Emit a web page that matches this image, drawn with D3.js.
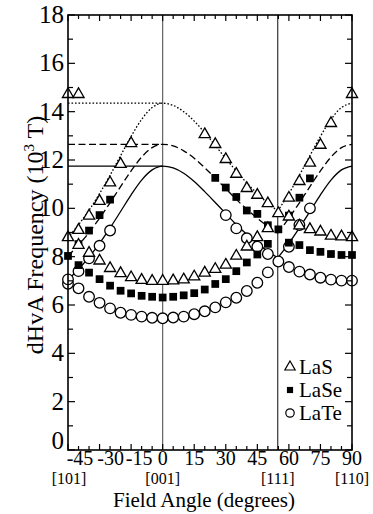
<!DOCTYPE html>
<html>
<head>
<meta charset="utf-8">
<script src="https://cdn.jsdelivr.net/npm/d3@7"></script>
<style>
  html, body { margin: 0; padding: 0; background: #fff; }
  svg text { font-family: "Liberation Serif", "DejaVu Serif", serif; }
</style>
</head>
<body>
<svg id="chart" width="373" height="514"></svg>
<script>
// measured points [angle, frequency (10^3 T)]
const LaS = [
  [-45, 8.80], [-40, 8.48], [-35, 8.15], [-30, 7.83], [-25, 7.52], [-20, 7.31], [-15, 7.14], [-10, 7.03], [-5, 6.99],
  [0, 6.99], [5, 7.01], [10, 7.05], [15, 7.17], [20, 7.33], [25, 7.48], [30, 7.66], [35, 8.03], [40, 8.41], [45, 8.80],
  [50, 9.17], [55, 9.79], [60, 9.65], [65, 9.28], [70, 9.13], [75, 9.03], [80, 8.86], [85, 8.83], [90, 8.80],
  [-40, 9.10], [-35, 9.69], [-30, 10.30], [-25, 11.06], [-20, 11.83], [-15, 12.69],
  [20, 13.06], [25, 12.65], [30, 12.03], [35, 11.42], [40, 10.83], [45, 10.55], [50, 10.20],
  [60, 10.43], [65, 11.12], [70, 11.88], [75, 12.62], [80, 13.52], [90, 14.72],
  [-45, 14.72], [-40, 14.72]
];
const LaSe = [
  [-45, 8.03], [-40, 7.65], [-35, 7.34], [-30, 7.07], [-25, 6.80], [-20, 6.59], [-15, 6.48], [-10, 6.38], [-5, 6.34],
  [0, 6.31], [5, 6.34], [10, 6.40], [15, 6.49], [20, 6.64], [25, 6.87], [30, 7.07], [35, 7.40], [40, 7.76], [45, 8.09],
  [50, 8.53], [55, 9.13], [60, 8.58], [65, 8.48], [70, 8.27], [75, 8.20], [80, 8.11], [85, 8.07], [90, 8.07],
  [-40, 8.52], [-35, 9.08], [-30, 9.72], [-25, 10.36],
  [25, 11.26], [30, 10.86], [35, 10.47], [40, 9.91], [45, 9.77], [50, 9.30],
  [60, 9.70], [65, 10.44], [70, 11.24]
];
const LaTe = [
  [-45, 6.88], [-40, 6.69], [-35, 6.34], [-30, 6.09], [-25, 5.86], [-20, 5.68], [-15, 5.59], [-10, 5.52], [-5, 5.47],
  [0, 5.45], [5, 5.48], [10, 5.52], [15, 5.62], [20, 5.74], [25, 5.90], [30, 6.11], [35, 6.30], [40, 6.58], [45, 6.92],
  [50, 7.35], [55, 7.80], [60, 7.57], [65, 7.38], [70, 7.26], [75, 7.13], [80, 7.05], [85, 7.01], [90, 7.01],
  [-45, 7.06], [-40, 7.40], [-35, 7.93], [-30, 8.45], [-25, 9.08],
  [30, 9.72], [35, 9.17], [40, 8.76], [45, 8.41], [50, 8.11],
  [60, 8.41], [65, 9.31], [70, 10.00]
];

// calculated curves; the cusp sits at [111]
const curveAngles = [-45, -40, -35, -30, -25, -20, -15, -10, -5, 0, 5, 10, 15, 20, 25, 30, 35, 40, 45, 50, 54.7,
  60, 65, 70, 75, 80, 85, 90];
const curveLaS = [8.80, 9.32, 9.92, 10.61, 11.37, 12.18, 12.98, 13.68, 14.17, 14.35, 14.26, 14.00, 13.61, 13.13,
  12.60, 12.06, 11.54, 11.05, 10.61, 10.21, 9.89, 10.61, 11.37, 12.18, 12.98, 13.68, 14.17, 14.35];
const curveLaSe = [8.03, 8.48, 9.00, 9.59, 10.23, 10.90, 11.55, 12.12, 12.51, 12.65, 12.58, 12.38, 12.07, 11.68,
  11.25, 10.81, 10.37, 9.96, 9.59, 9.25, 8.97, 9.59, 10.23, 10.90, 11.55, 12.12, 12.51, 12.65];
const curveLaTe = [7.05, 7.48, 7.98, 8.55, 9.19, 9.87, 10.56, 11.17, 11.59, 11.75, 11.67, 11.45, 11.11, 10.69,
  10.24, 9.78, 9.33, 8.92, 8.55, 8.22, 7.95, 8.55, 9.19, 9.87, 10.56, 11.17, 11.59, 11.75];
const cuspAngle = 54.7;

const xTicks = [-45, -30, -15, 0, 15, 30, 45, 60, 75, 90];
const yTicks = [0, 2, 4, 6, 8, 10, 12, 14, 16, 18];
const dirLabels = [[-45, "[101]"], [0, "[001]"], [54.7, "[111]"], [90, "[110]"]];
const seriesNames = ["LaS", "LaSe", "LaTe"];

const svg = d3.select("#chart");
const m = {left: 68, right: 352, top: 15, bottom: 450};

const x = d3.scaleLinear().domain([-45, 90]).range([m.left, m.right]);
const y = d3.scaleLinear().domain([0, 18]).range([m.bottom, m.top]);

// reference lines at [001] and [111]
[0, cuspAngle].forEach((a, i) => {
  svg.append("line")
    .attr("x1", x(a)).attr("x2", x(a))
    .attr("y1", m.top).attr("y2", m.bottom)
    .attr("stroke", i === 0 ? "#555" : "#222").attr("stroke-width", 1.1);
});

// curves
const styles = [
  {vals: curveLaS, dash: "1.6,1.9"},
  {vals: curveLaSe, dash: "7,3.5"},
  {vals: curveLaTe, dash: null}
];
const line = d3.line().x(d => x(d[0])).y(d => y(d[1])).curve(d3.curveMonotoneX);
const cut = curveAngles.indexOf(cuspAngle);

styles.forEach(s => {
  const pts = curveAngles.map((a, i) => [a, s.vals[i]]);
  const segs = [pts.slice(0, cut + 1), pts.slice(cut)];
  const peak = s.vals[curveAngles.indexOf(0)];
  segs.push([[-45, peak], [0, peak]]);
  segs.forEach(seg => {
    svg.append("path")
      .attr("d", line(seg))
      .attr("fill", "none")
      .attr("stroke", "#000")
      .attr("stroke-width", 1.3)
      .attr("stroke-dasharray", s.dash);
  });
});

// markers
const tri = d3.symbol().type(d3.symbolTriangle).size(54);
const sq = d3.symbol().type(d3.symbolSquare).size(60);

svg.append("g").selectAll("circle").data(LaTe).join("circle")
  .attr("cx", d => x(d[0])).attr("cy", d => y(d[1])).attr("r", 5.3)
  .attr("fill", "#fff").attr("stroke", "#000").attr("stroke-width", 1.3);

svg.append("g").selectAll("path").data(LaSe).join("path")
  .attr("d", sq)
  .attr("transform", d => `translate(${x(d[0])},${y(d[1])})`)
  .attr("fill", "#000");

svg.append("g").selectAll("path").data(LaS).join("path")
  .attr("d", tri)
  .attr("transform", d => `translate(${x(d[0])},${y(d[1])})`)
  .attr("fill", "#fff").attr("stroke", "#000").attr("stroke-width", 1.3);

// frame and ticks
svg.append("rect")
  .attr("x", m.left).attr("y", m.top)
  .attr("width", m.right - m.left).attr("height", m.bottom - m.top)
  .attr("fill", "none").attr("stroke", "#000").attr("stroke-width", 1.6);

const tk = svg.append("g").attr("stroke", "#000").attr("stroke-width", 1.2);
d3.range(-45, 91, 5).forEach(a => {
  const len = a % 15 === 0 ? 6 : 4;
  tk.append("line").attr("x1", x(a)).attr("x2", x(a)).attr("y1", m.bottom).attr("y2", m.bottom - len);
  tk.append("line").attr("x1", x(a)).attr("x2", x(a)).attr("y1", m.top).attr("y2", m.top + len);
});
d3.range(0, 19, 1).forEach(v => {
  const len = v % 2 === 0 ? 7 : 5;
  tk.append("line").attr("x1", m.left).attr("x2", m.left + len).attr("y1", y(v)).attr("y2", y(v));
  tk.append("line").attr("x1", m.right).attr("x2", m.right - len).attr("y1", y(v)).attr("y2", y(v));
});

// tick labels
const negShift = {"-45": 12, "-30": 11, "-15": 8};

svg.append("g").selectAll("text").data(yTicks).join("text")
  .attr("x", m.left - 4)
  .attr("y", d => y(d) + (d === 0 ? -1 : 8))
  .attr("text-anchor", "end")
  .attr("font-size", 25)
  .text(d => d);

svg.append("g").selectAll("text").data(xTicks).join("text")
  .attr("x", d => x(d) + (negShift[d] || 0))
  .attr("y", 465)
  .attr("text-anchor", "middle")
  .attr("font-size", 20)
  .text(d => d);

svg.append("g").selectAll("text").data(dirLabels).join("text")
  .attr("x", d => x(d[0]) + (d[0] < 0 ? 1 : 0))
  .attr("y", 484)
  .attr("text-anchor", "middle")
  .attr("font-size", 16)
  .text(d => d[1]);

svg.append("text")
  .attr("x", 204).attr("y", 506.5)
  .attr("text-anchor", "middle")
  .attr("font-size", 21)
  .text("Field Angle (degrees)");

svg.append("text")
  .attr("transform", "translate(43,235) rotate(-90)")
  .attr("text-anchor", "middle")
  .attr("font-size", 24)
  .html('dHvA Frequency (10<tspan font-size="15" dy="-9">3</tspan><tspan dy="9"> T)</tspan>');

// legend
const lg = svg.append("g");
const ly = [367, 390, 413];
lg.append("path").attr("d", d3.symbol().type(d3.symbolTriangle).size(46)())
  .attr("transform", `translate(290,${ly[0]})`)
  .attr("fill", "#fff").attr("stroke", "#000").attr("stroke-width", 1.2);
lg.append("path").attr("d", d3.symbol().type(d3.symbolSquare).size(38)())
  .attr("transform", `translate(290,${ly[1]})`).attr("fill", "#000");
lg.append("circle").attr("cx", 290).attr("cy", ly[2]).attr("r", 4.2)
  .attr("fill", "#fff").attr("stroke", "#000").attr("stroke-width", 1.2);
seriesNames.forEach((n, i) => {
  lg.append("text").attr("x", 299).attr("y", ly[i] + 7).attr("font-size", 21).text(n);
});
</script>
</body>
</html>
